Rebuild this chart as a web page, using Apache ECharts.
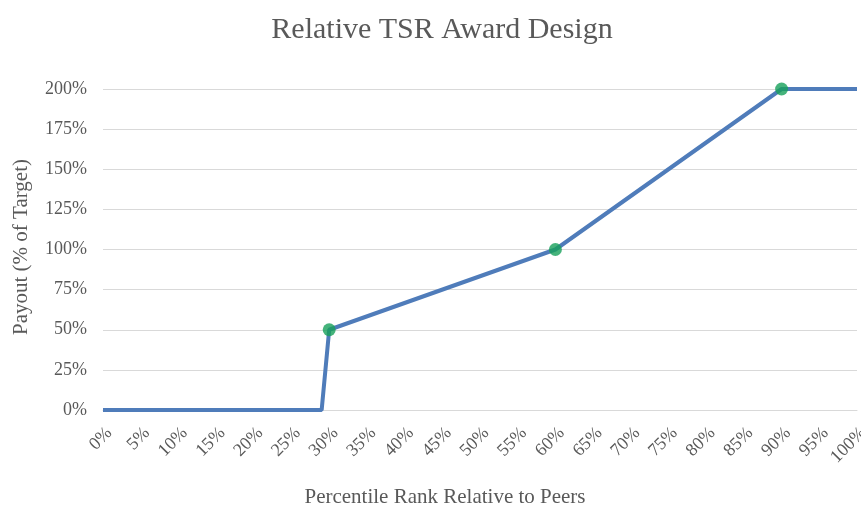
<!DOCTYPE html>
<html>
<head>
<meta charset="utf-8">
<script src="https://cdn.jsdelivr.net/npm/echarts@6/dist/echarts.min.js"></script>
<style>
html,body{margin:0;padding:0;background:#fff;}
#chart{width:861px;height:508px;}
</style>
</head>
<body>
<div id="chart"></div>
<script>
const titleText = "Relative TSR Award Design";
const xAxisName = "Percentile Rank Relative to Peers";
const yAxisName = "Payout (% of Target)";
// percentile rank (x) and payout % (y) at the curve's breakpoints
const rankPoints = [0, 29, 30, 60, 90, 100];
const payoutPoints = [0, 0, 50, 100, 200, 200];
// highlighted points
const markerRanks = [30, 60, 90];
const markerPayouts = [50, 100, 200];

const lineData = rankPoints.map((r, i) => [r, payoutPoints[i]]);
const markerData = markerRanks.map((r, i) => [r, markerPayouts[i]]);

const serif = "'Liberation Serif', 'Times New Roman', serif";
const txt = '#595959';

const chart = echarts.init(document.getElementById('chart'));
chart.setOption({
  animation: false,
  title: {
    text: titleText, left: 437, textAlign: 'center', top: 10,
    textStyle: { fontFamily: serif, fontSize: 30, fontWeight: 'normal', color: txt }
  },
  grid: { left: 103, right: 4, top: 89, bottom: 98, outerBoundsMode: 'none', containLabel: false },
  graphic: [
    {
      type: 'text', x: 445, y: 497,
      style: { text: xAxisName, font: "21px 'Liberation Serif', serif", fill: txt, textAlign: 'center', textVerticalAlign: 'middle' }
    },
    {
      type: 'text', x: 21, y: 247, rotation: Math.PI / 2,
      style: { text: yAxisName, font: "21px 'Liberation Serif', serif", fill: txt, textAlign: 'center', textVerticalAlign: 'middle' }
    }
  ],
  xAxis: {
    type: 'value', min: 0, max: 100, interval: 5,
    axisLine: { show: true, lineStyle: { color: '#d9d9d9', width: 1 } },
    axisTick: { show: false },
    splitLine: { show: false },
    axisLabel: {
      formatter: '{value}%', rotate: 45, margin: 14, verticalAlign: 'top',
      fontFamily: serif, fontSize: 18, color: txt
    }
  },
  yAxis: {
    type: 'value', min: 0, max: 200, interval: 25,
    axisLine: { show: false }, axisTick: { show: false },
    splitLine: { lineStyle: { color: '#d9d9d9', width: 1 } },
    axisLabel: { formatter: '{value}%', margin: 16, fontFamily: serif, fontSize: 18, color: txt }
  },
  series: [
    {
      type: 'line', data: lineData, showSymbol: false,
      lineStyle: { color: '#4f7cba', width: 4 }, z: 2
    },
    {
      type: 'scatter', data: markerData, symbol: 'circle', symbolSize: 13,
      itemStyle: { color: '#16a05a' }, z: 3
    }
  ]
});
</script>
</body>
</html>
